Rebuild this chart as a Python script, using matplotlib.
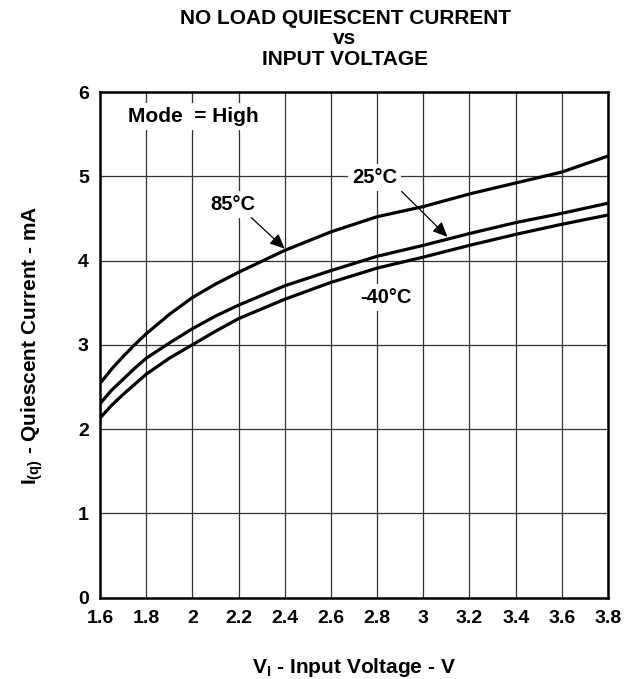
import matplotlib
matplotlib.use("Agg")
import matplotlib.pyplot as plt

plt.rcParams['font.family'] = ['Liberation Sans', 'DejaVu Sans']
plt.rcParams['font.weight'] = 'bold'
plt.rcParams['mathtext.fontset'] = 'custom'
plt.rcParams['mathtext.rm'] = 'Liberation Sans:bold'
plt.rcParams['mathtext.bf'] = 'Liberation Sans:bold'
plt.rcParams['mathtext.it'] = 'Liberation Sans:bold'

# Data
vin = [1.6, 1.65, 1.7, 1.75, 1.8, 1.9, 2.0, 2.1, 2.2, 2.4, 2.6, 2.8, 3.0, 3.2, 3.4, 3.6, 3.8]
iq_85 = [2.54, 2.71, 2.86, 3.00, 3.13, 3.36, 3.56, 3.72, 3.86, 4.12, 4.34, 4.52, 4.64, 4.79, 4.92, 5.05, 5.24]
iq_25 = [2.30, 2.46, 2.59, 2.72, 2.84, 3.02, 3.19, 3.34, 3.47, 3.70, 3.88, 4.05, 4.18, 4.32, 4.45, 4.56, 4.68]
iq_m40 = [2.13, 2.28, 2.41, 2.53, 2.65, 2.84, 3.00, 3.16, 3.31, 3.54, 3.74, 3.91, 4.04, 4.18, 4.31, 4.43, 4.54]

xticks = [1.6, 1.8, 2.0, 2.2, 2.4, 2.6, 2.8, 3.0, 3.2, 3.4, 3.6, 3.8]
xticklabels = ['1.6', '1.8', '2', '2.2', '2.4', '2.6', '2.8', '3', '3.2', '3.4', '3.6', '3.8']
yticks = [0, 1, 2, 3, 4, 5, 6]

fig = plt.figure(figsize=(6.36, 6.79), dpi=100)
ax = fig.add_axes([0.1572, 0.12, 0.7988, 0.7445])

for y in (iq_85, iq_25, iq_m40):
    ax.plot(vin, y, color='black', lw=2.3, solid_capstyle='butt', solid_joinstyle='round', zorder=3)

ax.set_xlim(1.6, 3.8)
ax.set_ylim(0, 6)
ax.set_xticks(xticks)
ax.set_xticklabels(xticklabels)
ax.set_yticks(yticks)
ax.tick_params(axis='both', length=0, labelsize=14, pad=8)
ax.tick_params(axis='x', pad=9)
for lab in ax.get_xticklabels() + ax.get_yticklabels():
    lab.set_fontweight('bold')
ax.grid(True, color='#333333', lw=0.9, zorder=1)
for s in ax.spines.values():
    s.set_linewidth(1.8)

bbox = dict(boxstyle='square,pad=0.2', fc='white', ec='none')
ax.text(1.72, 5.71, 'Mode  = High', fontsize=15, fontweight='bold', ha='left', va='center', bbox=bbox, zorder=4)
ax.text(2.177, 4.67, '85°C', fontsize=14.5, fontweight='bold', ha='center', va='center', bbox=bbox, zorder=4)
ax.text(2.79, 4.98, '25°C', fontsize=14.5, fontweight='bold', ha='center', va='center', bbox=bbox, zorder=4)
ax.text(2.84, 3.56, '-40°C', fontsize=14.5, fontweight='bold', ha='center', va='center', bbox=bbox, zorder=4)

arrowprops = dict(arrowstyle='-|>,head_length=0.9,head_width=0.4', color='black', lw=0.9, shrinkA=0, shrinkB=0)
ax.annotate('', xy=(2.40, 4.14), xytext=(2.255, 4.51), arrowprops=arrowprops, zorder=5)
ax.annotate('', xy=(3.105, 4.28), xytext=(2.906, 4.82), arrowprops=arrowprops, zorder=5)

fig.text(0.5425, 0.987, 'NO LOAD QUIESCENT CURRENT\nvs\nINPUT VOLTAGE', ha='center', va='top',
         fontsize=15, fontweight='bold', linespacing=1.1)
ax.set_xlabel(r'V$_{\mathrm{I}}$ - Input Voltage - V', fontsize=15, fontweight='bold', labelpad=21)
ax.set_ylabel(r'I$_{\mathrm{(q)}}$ - Quiescent Current - mA', fontsize=15, fontweight='bold', labelpad=24)

fig.savefig('out.png', dpi=100)
